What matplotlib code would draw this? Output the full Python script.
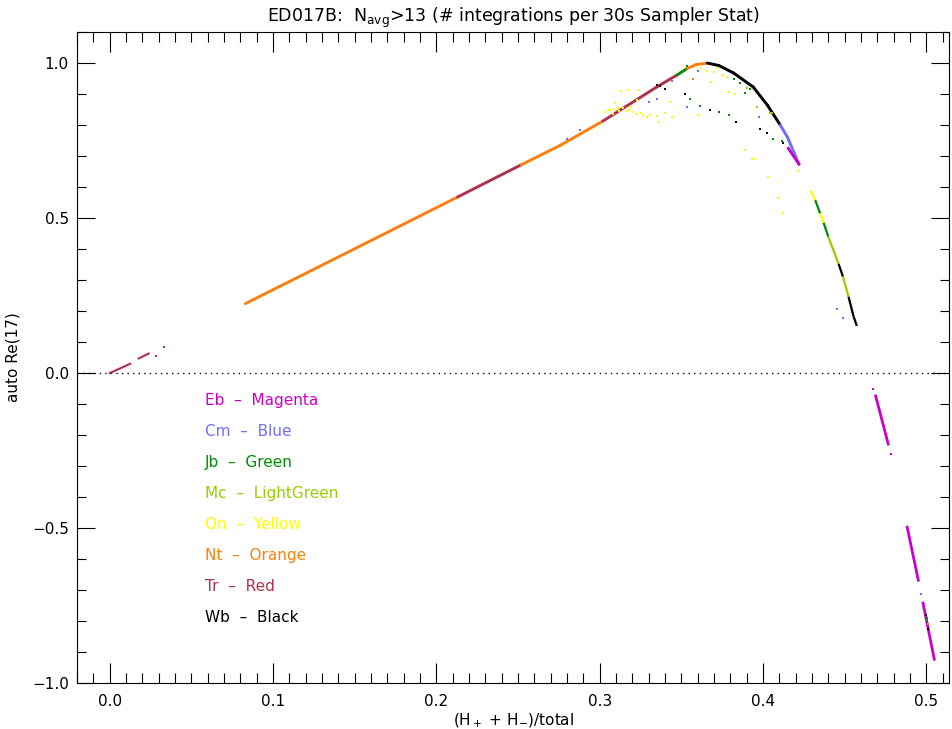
import matplotlib
matplotlib.use("Agg")
import matplotlib.pyplot as plt
import numpy as np
from matplotlib.ticker import MultipleLocator

plt.rcParams['font.family'] = ['DejaVu Sans']
plt.rcParams['mathtext.default'] = 'regular'

# colours used for each station
colors = {"Eb": "#cc00cc", "Cm": "#6f6fff", "Jb": "#008c00", "Mc": "#99cc00",
          "On": "#ffff00", "Nt": "#ff7f0e", "Tr": "#b0304e", "Wb": "#000000"}
legend_names = ["Eb", "Cm", "Jb", "Mc", "On", "Nt", "Tr", "Wb"]
legend_cols = ["Magenta", "Blue", "Green", "LightGreen", "Yellow", "Orange", "Red", "Black"]

# main curve (rising branch + peak + first falling branch)
curve_x = [0.083, 0.15, 0.213, 0.252, 0.276, 0.302, 0.335, 0.3475, 0.3537, 0.359, 0.366,
           0.373, 0.382, 0.394, 0.4026, 0.4106, 0.415, 0.422]
curve_y = [0.224, 0.401, 0.568, 0.672, 0.735, 0.813, 0.923, 0.962, 0.983, 0.995, 1.0,
           0.992, 0.968, 0.923, 0.865, 0.80, 0.761, 0.674]
curve_col = ["Nt", "Nt", "Tr", "Nt", "Nt", "Tr", "Tr", "Jb", "Nt", "Nt", "Wb",
             "Wb", "Wb", "Wb", "Wb", "Cm", "Cm"]

# second falling branch
seg2_x = [0.4292, 0.432, 0.435, 0.4371, 0.440, 0.4463, 0.449, 0.4524, 0.4555, 0.4575]
seg2_y = [0.59, 0.558, 0.515, 0.485, 0.44, 0.352, 0.311, 0.246, 0.182, 0.152]
seg2_col = ["On", "Jb", "On", "Jb", "Mc", "Wb", "Mc", "Wb", "Wb"]

# small pieces near the origin
tr_x = [[0.0, 0.0125], [0.0177, 0.0238]]
tr_y = [[0.0, 0.03], [0.047, 0.063]]
tr_dot_x = [0.0285, 0.033]
tr_dot_y = [0.055, 0.083]

# negative magenta pieces
eb_x = [[0.469, 0.4767], [0.4883, 0.4951], [0.498, 0.5049], [0.4155, 0.422]]
eb_y = [[-0.074, -0.229], [-0.497, -0.668], [-0.742, -0.923], [0.725, 0.674]]
eb_dot_x = [0.4675, 0.4787]
eb_dot_y = [-0.05, -0.26]

# scattered points
dots = {
    "On": ([0.3034, 0.3065, 0.311, 0.3145, 0.319, 0.3205, 0.325, 0.3267, 0.335, 0.336,
            0.340, 0.344, 0.313, 0.3175, 0.3236, 0.3095, 0.343, 0.360, 0.331, 0.323,
            0.362, 0.366, 0.37, 0.372, 0.375, 0.378, 0.368, 0.379, 0.383,
            0.395, 0.403, 0.409, 0.412, 0.4216, 0.389, 0.3935, 0.308, 0.316, 0.329,
            0.305, 0.309, 0.312, 0.318, 0.322],
           [0.842, 0.848, 0.855, 0.855, 0.858, 0.842, 0.838, 0.832, 0.829, 0.81,
            0.838, 0.826, 0.91, 0.913, 0.913, 0.871, 0.874, 0.832, 0.832, 0.880,
            0.985, 0.975, 0.97, 0.985, 0.96, 0.955, 0.94, 0.906, 0.9,
            0.694, 0.632, 0.565, 0.516, 0.652, 0.72, 0.69, 0.835, 0.845, 0.825,
            0.850, 0.852, 0.846, 0.850, 0.835]),
    "Jb": ([0.3537, 0.3555, 0.3615, 0.373, 0.379, 0.406, 0.4118, 0.386, 0.389, 0.382, 0.392,
            0.5005, 0.5003],
           [0.99, 0.884, 0.861, 0.842, 0.832, 0.755, 0.748, 0.935, 0.903, 0.95, 0.915,
            -0.80, -0.79]),
    "Wb": ([0.3525, 0.3677, 0.3837, 0.398, 0.4026, 0.4123, 0.340, 0.335, 0.337, 0.5, 0.5013],
           [0.90, 0.848, 0.81, 0.787, 0.774, 0.742, 0.916, 0.93, 0.925, -0.78, -0.826]),
    "Mc": ([0.3965, 0.4056, 0.39, 0.404],
           [0.858, 0.838, 0.92, 0.84]),
    "Cm": ([0.3537, 0.335, 0.33, 0.288, 0.280, 0.4455, 0.449, 0.36, 0.3977, 0.344, 0.497],
           [0.858, 0.884, 0.874, 0.784, 0.755, 0.206, 0.177, 0.975, 0.826, 0.942, -0.713]),
    "Nt": ([0.357, 0.5008],
           [0.948, -0.81]),
}

fig = plt.figure(figsize=(9.52, 7.29), dpi=100)
ax = fig.add_axes([0.081, 0.063, 0.916, 0.893])

ax.axhline(0.0, color="black", lw=1.0, ls=(0, (1, 3)), zorder=1)

# main curve, drawn interval by interval in the station colour
for i in range(len(curve_col)):
    ax.plot(curve_x[i:i + 2], curve_y[i:i + 2], color=colors[curve_col[i]],
            lw=2.1, solid_capstyle="round", zorder=3)
for i in range(len(seg2_col)):
    ax.plot(seg2_x[i:i + 2], seg2_y[i:i + 2], color=colors[seg2_col[i]],
            lw=1.6, solid_capstyle="butt", zorder=3)

for xs, ys in zip(tr_x, tr_y):
    ax.plot(xs, ys, color=colors["Tr"], lw=1.5, zorder=3)
ax.scatter(tr_dot_x, tr_dot_y, s=3, color=colors["Tr"], marker="s", lw=0, zorder=3)

for xs, ys in zip(eb_x, eb_y):
    ax.plot(xs, ys, color=colors["Eb"], lw=2.0, zorder=3)
ax.scatter(eb_dot_x, eb_dot_y, s=3, color=colors["Eb"], marker="s", lw=0, zorder=3)

for name, (xs, ys) in dots.items():
    ax.scatter(xs, ys, s=3.5, color=colors[name], marker="s", lw=0, zorder=4)

# legend text
for i, (n, c) in enumerate(zip(legend_names, legend_cols)):
    ax.text(0.0585, -0.087 - 0.1 * i, n + "  \u2013  " + c, color=colors[n],
            fontsize=11, va="center", ha="left")

ax.set_xlim(-0.02, 0.514)
ax.set_ylim(-1.0, 1.1)
ax.xaxis.set_major_locator(MultipleLocator(0.1))
ax.xaxis.set_minor_locator(MultipleLocator(0.01))
ax.yaxis.set_major_locator(MultipleLocator(0.5))
ax.yaxis.set_minor_locator(MultipleLocator(0.1))
ax.set_xticks(np.arange(0, 0.51, 0.1))
ax.set_xticklabels(["0.0", "0.1", "0.2", "0.3", "0.4", "0.5"])
ax.set_yticks([-1.0, -0.5, 0.0, 0.5, 1.0])
ax.set_yticklabels(["\u22121.0", "\u22120.5", "0.0", "0.5", "1.0"])

ax.tick_params(axis="x", which="major", direction="in", length=14.5, width=0.8,
               top=True, labelsize=11, pad=8)
ax.tick_params(axis="x", which="minor", direction="in", length=7.5, width=0.8, top=True)
ax.tick_params(axis="y", which="major", direction="in", length=13, width=0.8,
               right=True, labelsize=11, pad=6)
ax.tick_params(axis="y", which="minor", direction="in", length=6.5, width=0.8, right=True)
for sp in ax.spines.values():
    sp.set_linewidth(0.8)

ax.set_xlabel("(H$_+$ + H$_{-}$)/total", fontsize=11, labelpad=2)
ax.set_ylabel("auto Re(17)", fontsize=11, labelpad=8)
ax.set_title("ED017B:  N$_{avg}$>13 (# integrations per 30s Sampler Stat)",
             fontsize=12.5, pad=7)

fig.savefig("out.png", dpi=100)
